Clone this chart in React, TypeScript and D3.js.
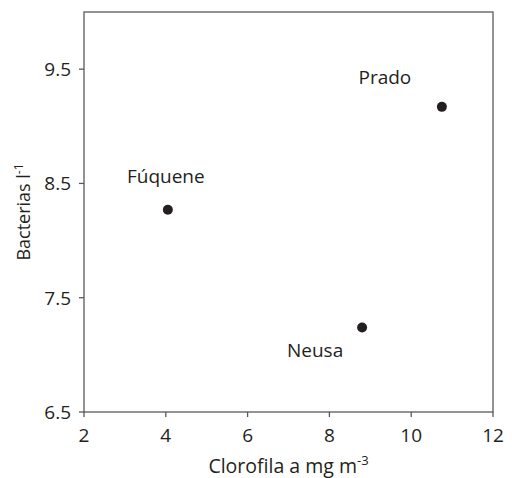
import React from "react";
import * as d3 from "d3";

const sites = ["Fúquene", "Neusa", "Prado"];
const chlorophyll = [4.05, 8.8, 10.75];
const bacteria = [8.27, 7.24, 9.17];
const xTicks = [2, 4, 6, 8, 10, 12];
const yTicks = [6.5, 7.5, 8.5, 9.5];
// label offsets relative to point (dx, dy in px) - positions of annotations
const labelDx = [-2, -47, -57];
const labelDy = [-27, 30, -23];

const W = 512;
const H = 478;
const M = { left: 84, right: 19, top: 12, bottom: 66 };
const FONT = "'Open Sans', sans-serif";
const AXIS = "#58595b";
const INK = "#231f20";

export default function App() {
  const x = d3.scaleLinear().domain([2, 12]).range([M.left, W - M.right]);
  const y = d3.scaleLinear().domain([6.5, 10]).range([H - M.bottom, M.top]);
  const [x0, x1] = x.range();
  const [y0, y1] = y.range();
  return (
    <svg
      width={W}
      height={H}
      style={{ position: "absolute", left: 0, top: 0, background: "#fff" }}
      fontFamily={FONT}
    >
      <rect x={x0} y={y1} width={x1 - x0} height={y0 - y1} fill="none" stroke={AXIS} strokeWidth={1.3} />
      {xTicks.map((t) => (
        <g key={"x" + t}>
          <line x1={x(t)} x2={x(t)} y1={y0} y2={y0 + 5} stroke={AXIS} strokeWidth={1.3} />
          <text x={x(t)} y={y0 + 30} textAnchor="middle" fontSize={19} fill={INK}>
            {t}
          </text>
        </g>
      ))}
      {yTicks.map((t) => (
        <g key={"y" + t}>
          <line x1={x0 - 5} x2={x0} y1={y(t)} y2={y(t)} stroke={AXIS} strokeWidth={1.3} />
          <text x={x0 - 13} y={y(t) + 7} textAnchor="end" fontSize={19} fill={INK}>
            {t.toFixed(1)}
          </text>
        </g>
      ))}
      {sites.map((s, i) => (
        <g key={s}>
          <circle cx={x(chlorophyll[i])} cy={y(bacteria[i])} r={5} fill={INK} />
          <text
            x={x(chlorophyll[i]) + labelDx[i]}
            y={y(bacteria[i]) + labelDy[i]}
            textAnchor="middle"
            fontSize={19}
            fill={INK}
          >
            {s}
          </text>
        </g>
      ))}
      <text x={(x0 + x1) / 2} y={473} textAnchor="middle" fontSize={19.5} fill={INK}>
        Clorofila a mg m
        <tspan fontSize={13} dy={-8}>-3</tspan>
      </text>
      <text
        transform={`translate(30, ${(y0 + y1) / 2}) rotate(-90)`}
        textAnchor="middle"
        fontSize={18}
        fill={INK}
      >
        Bacterias l
        <tspan fontSize={12} dy={-7}>-1</tspan>
      </text>
    </svg>
  );
}
